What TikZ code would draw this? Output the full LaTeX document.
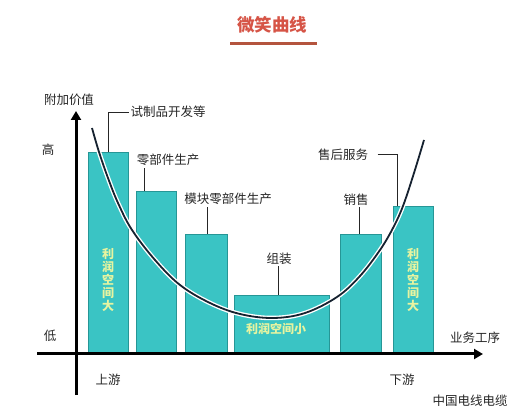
\documentclass[tikz,border=0pt]{standalone}
\usepackage{fontspec}
\newfontfamily\cjk{Noto Sans CJK SC}
\usetikzlibrary{arrows.meta}
\definecolor{barfill}{RGB}{58,196,196}
\definecolor{baredge}{RGB}{38,150,150}
\definecolor{bartext}{RGB}{232,244,160}
\definecolor{titlered}{RGB}{214,84,70}
\definecolor{ulinered}{RGB}{180,84,62}
\definecolor{curvedark}{RGB}{22,34,48}
\tikzset{
  bar/.style={draw=baredge, line width=0.8pt, fill=barfill, anchor=north west, inner sep=0pt},
  lbl/.style={font=\cjk\fontsize{12.5}{13}\selectfont, text=black!85, inner sep=1.5pt},
  bartxt/.style={font=\cjk\bfseries\fontsize{12}{12.8}\selectfont, text=bartext, align=center, inner sep=0pt},
  leader/.style={draw=black!85, line width=0.8pt},
  axis/.style={line width=3pt, black, -{Triangle[length=9pt,width=10pt]}},
}
\begin{document}
\begin{tikzpicture}[x=1pt,y=-1pt]
\useasboundingbox (0,0) rectangle (520,414);
\fill[white] (0,0) rectangle (520,414);

% title
\node[font=\cjk\bfseries\fontsize{17.5}{18}\selectfont, text=titlered, inner sep=0pt] (title) at (272,25) {微笑曲线};
\coordinate (ul1) at (230,44);
\coordinate (ul2) at (317,44);
\draw[ulinered, line width=3pt] (ul1) -- (ul2);

% bars
\node[bar, minimum width=40pt, minimum height=200pt] (b1) at (88,152) {};
\node[bar, minimum width=40pt, minimum height=161pt] (b2) at (136,191) {};
\node[bar, minimum width=42pt, minimum height=118pt] (b3) at (185,234) {};
\node[bar, minimum width=95pt, minimum height=57pt] (b4) at (234,295) {};
\node[bar, minimum width=41pt, minimum height=118pt] (b5) at (340,234) {};
\node[bar, minimum width=40pt, minimum height=146pt] (b6) at (393,206) {};

% bar texts
\node[bartxt] (t1) at (108,280) {利\\润\\空\\间\\大};
\node[bartxt] (t6) at (413,280) {利\\润\\空\\间\\大};
\node[bartxt] (t4) at (276,329) {利润空间小};

% smile curve
\def\smile{plot[smooth, tension=0.6] coordinates {(92,128) (99,152) (108,178) (118,203) (132,230) (155,260) (180,285) (210,303) (240,314) (273,318) (305,313) (337,297) (360,276) (380,250) (393,228) (403,206) (414,173) (424,140)}}
\draw[white, line width=4.5pt] \smile;
\draw[curvedark, line width=1.8pt] \smile;

% labels
\node[lbl] (l1) at (168,112) {试制品开发等};
\node[lbl] (l2) at (168,160) {零部件生产};
\node[lbl] (l3) at (228,199) {模块零部件生产};
\node[lbl] (l4) at (279,259) {组装};
\node[lbl] (l5) at (356,200) {销售};
\node[lbl] (l6) at (343,155) {售后服务};

\draw[leader] (l1.west) -| (b1.north);
\draw[leader] ([xshift=-12pt]b2.north) -- ([xshift=-12pt]b2.north |- l2.south);
\draw[leader] ([xshift=1pt]b3.north) -- ([xshift=1pt]b3.north |- l3.south);
\draw[leader] ([xshift=-3.5pt]b4.north) -- ([xshift=-3.5pt]b4.north |- l4.south);
\draw[leader] ([xshift=-1.5pt]b5.north) -- ([xshift=-1.5pt]b5.north |- l5.south);
\draw[leader] ([xshift=8pt, yshift=1pt]l6.east) -| ([xshift=4pt]b6.north west);

% axes
\coordinate (ybot) at (76,395);
\coordinate (ytop) at (76,111);
\coordinate (xleft) at (37,354);
\coordinate (xright) at (483,354);
\draw[axis] (ybot) -- (ytop);
\draw[axis] (xleft) -- (xright);

% axis labels
\node[lbl] (yl) at (69,100) {附加价值};
\node[lbl] (hi) at (48,150) {高};
\node[lbl] (lo) at (50,336) {低};
\node[lbl] (xl) at (475,338) {业务工序};
\node[lbl] (up) at (108,380) {上游};
\node[lbl] (down) at (402,380) {下游};
\node[lbl] (src) at (470,401) {中国电线电缆};
\end{tikzpicture}
\end{document}
